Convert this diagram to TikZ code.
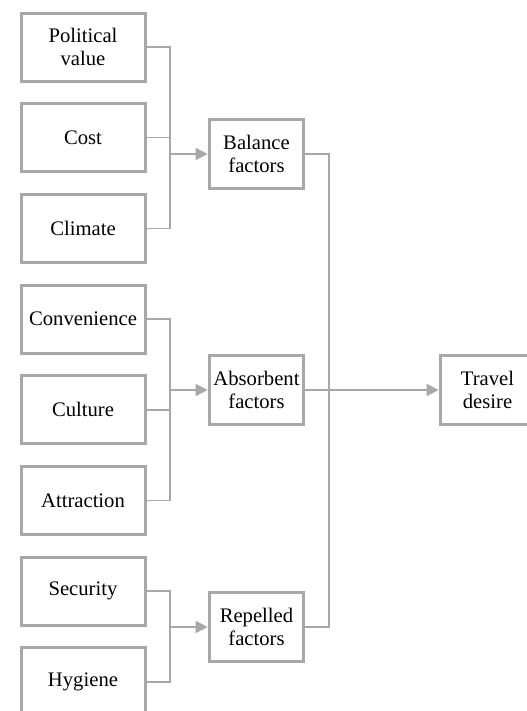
\documentclass[tikz,border=0pt]{standalone}
\usepackage{fontspec}
\setmainfont{Liberation Serif}
\usepackage{xcolor}
\usepackage{tikz}
\usetikzlibrary{arrows.meta,positioning}
\definecolor{linegray}{RGB}{168,168,168}
\def\dy{90.7}
\tikzstyle{factor} = [rectangle, draw=linegray, line width=2.25pt, minimum width=93pt, minimum height=51pt, inner sep=1pt, align=center, font=\fontsize{15.5}{17.5}\selectfont, text=black]
\tikzstyle{group} = [factor, minimum width=71pt, minimum height=52pt]
\tikzstyle{link} = [draw=linegray, line width=1.1pt]
\tikzstyle{arrow} = [link, -{Triangle[length=9pt,width=9pt]}]

\begin{document}
\begin{tikzpicture}[x=0.75pt,y=-0.75pt]
        \clip (0,0) rectangle (527,711);
        % left column of single factors
        \foreach \name/\txt [count=\i from 0] in {pol/Political\\value, cost/Cost, clim/Climate,
            conv/Convenience, cult/Culture, attr/Attraction, sec/Security, hyg/Hygiene}
          \node[factor] (\name) at (83,47+\i*\dy) {\txt};
        % grouped factors
        \node[group] (bal) at (256.5,154) {Balance\\factors};
        \node[group] (abs) at (256.5,390) {Absorbent\\factors};
        \node[group] (rep) at (256.5,627) {Repelled\\factors};
        \node[group] (trav) at (487.5,390) {Travel\\desire};
        % junctions
        \coordinate (jb) at (170,154);
        \coordinate (ja) at (170,390);
        \coordinate (jr) at (170,627);
        \coordinate (jo) at (329,390);
        \foreach \name in {pol,cost,clim} \draw[link] (\name.east) -| (jb);
        \foreach \name in {conv,cult,attr} \draw[link] (\name.east) -| (ja);
        \foreach \name in {sec,hyg} \draw[link] (\name.east) -| (jr);
        \draw[arrow] (jb) -- (bal.west);
        \draw[arrow] (ja) -- (abs.west);
        \draw[arrow] (jr) -- (rep.west);
        \draw[link] (bal.east) -| (jo);
        \draw[link] (rep.east) -| (jo);
        \draw[arrow] (abs.east) -- (trav.west);
      \end{tikzpicture}
\end{document}
